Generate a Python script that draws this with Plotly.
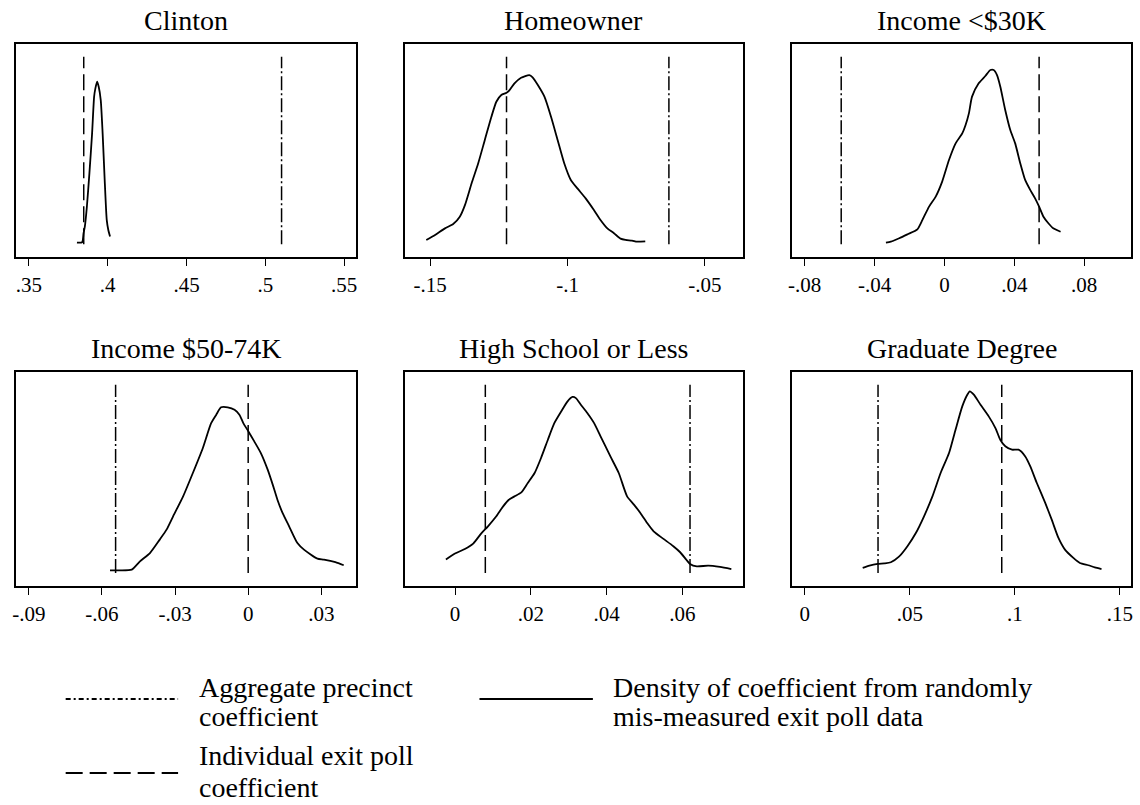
import plotly.graph_objects as go

# ---------------- data ----------------
titles = ["Clinton", "Homeowner", "Income &lt;$30K",
          "Income $50-74K", "High School or Less", "Graduate Degree"]

aggregate_coef = [0.5103, -0.0631, -0.0591, -0.0544, 0.0620, 0.0349]
individual_coef = [0.3848, -0.1222, 0.0542, 0.0000, 0.0080, 0.0938]

tick_vals = [[0.35, 0.40, 0.45, 0.50, 0.55],
             [-0.15, -0.10, -0.05],
             [-0.08, -0.04, 0.0, 0.04, 0.08],
             [-0.09, -0.06, -0.03, 0.0, 0.03],
             [0.0, 0.02, 0.04, 0.06],
             [0.0, 0.05, 0.10, 0.15]]
tick_text = [[".35", ".4", ".45", ".5", ".55"],
             ["-.15", "-.1", "-.05"],
             ["-.08", "-.04", "0", ".04", ".08"],
             ["-.09", "-.06", "-.03", "0", ".03"],
             ["0", ".02", ".04", ".06"],
             ["0", ".05", ".1", ".15"]]

clinton_x = [.3805, .3838, .3847, .3855, .3868, .3884, .3901, .3914, .3922, .3933,
             .3943, .3956, .3968, .3981, .3994, .4004, .4015]
clinton_y = [.009, .011, .059, .094, .200, .378, .590, .787, .831, .867,
             .840, .769, .590, .343, .130, .076, .041]

homeowner_x = [-.1514, -.1482, -.1446, -.1416, -.1392, -.1373, -.1349, -.1325, -.1301, -.1277,
               -.1259, -.1241, -.1222, -.1211, -.1193, -.1169, -.1139, -.1127, -.1108, -.1084,
               -.1060, -.1036, -.1012, -.0988, -.0964, -.0934, -.0904, -.0880, -.0855, -.0831,
               -.0807, -.0789, -.0765, -.0747, -.0717]
homeowner_y = [.023, .050, .085, .108, .147, .210, .325, .432, .556, .680,
               .760, .796, .808, .822, .858, .888, .902, .890, .849, .787,
               .680, .556, .432, .343, .298, .245, .183, .130, .085, .059,
               .030, .023, .020, .014, .016]

inc30_x = [-.0335, -.0307, -.0259, -.0212, -.0155, -.0126, -.0088, -.0050, -.0013, .0026,
           .0064, .0102, .0121, .0140, .0158, .0196, .0234, .0263, .0282, .0301,
           .0320, .0348, .0377, .0405, .0434, .0462, .0491, .0519, .0542, .0567,
           .0595, .0623, .0665]
inc30_y = [.009, .014, .032, .053, .080, .130, .201, .254, .334, .449,
           .538, .591, .636, .698, .787, .858, .897, .929, .929, .902,
           .840, .716, .609, .538, .432, .343, .290, .245, .201, .147,
           .112, .085, .067]

inc5074_x = [-.0567, -.0526, -.0478, -.0444, -.0403, -.0363, -.0335, -.0308, -.0267, -.0227,
             -.0186, -.0152, -.0131, -.0111, -.0084, -.0056, -.0036, -.0020, .0001, .0025,
             .0052, .0080, .0103, .0120, .0141, .0168, .0202, .0229, .0284, .0311,
             .0358, .0392]
inc5074_y = [.014, .014, .018, .062, .106, .177, .230, .301, .407, .531,
             .664, .796, .841, .880, .880, .867, .841, .796, .752, .699,
             .637, .549, .460, .389, .319, .248, .159, .124, .076, .071,
             .057, .041]

hs_x = [-.0024, .0000, .0026, .0048, .0070, .0087, .0109, .0127, .0142, .0157,
        .0175, .0192, .0210, .0227, .0245, .0262, .0280, .0297, .0310, .0319,
        .0332, .0349, .0367, .0384, .0410, .0432, .0454, .0472, .0489, .0507,
        .0524, .0550, .0576, .0594, .0610, .0620, .0638, .0668, .0699, .0729]
hs_y = [.071, .103, .127, .156, .212, .248, .301, .354, .389, .407,
        .428, .478, .531, .611, .708, .796, .858, .912, .935, .929,
        .894, .850, .796, .726, .619, .531, .407, .363, .319, .265,
        .221, .181, .142, .110, .071, .048, .035, .039, .032, .021]

grad_x = [.0276, .0308, .0347, .0379, .0410, .0450, .0489, .0529, .0568, .0608,
          .0647, .0687, .0718, .0750, .0774, .0786, .0805, .0837, .0876, .0908,
          .0931, .0955, .0987, .1018, .1050, .1074, .1105, .1145, .1176, .1208,
          .1239, .1279, .1310, .1350, .1381, .1413]
grad_y = [.027, .039, .048, .051, .057, .088, .142, .212, .301, .407,
          .531, .637, .761, .885, .947, .965, .947, .894, .832, .770,
          .708, .673, .655, .655, .619, .566, .478, .372, .283, .186,
          .124, .080, .053, .041, .030, .021]

density_x = [clinton_x, homeowner_x, inc30_x, inc5074_x, hs_x, grad_x]
density_y = [clinton_y, homeowner_y, inc30_y, inc5074_y, hs_y, grad_y]

legend_labels = [["Aggregate precinct", "coefficient"],
                 ["Individual exit poll", "coefficient"],
                 ["Density of coefficient from randomly", "mis-measured exit poll data"]]

# ---------------- layout helpers ----------------
W, H = 1140, 805
FONT = "Liberation Serif"

def px(x):
    return x / W

def py(y):
    return 1 - y / H

col_dom = [(12, 354), (402.7, 743), (792.3, 1133.3)]
row_dom = [(44, 257), (372, 585.7)]
x_ranges = [[.3418, .5576], [-.1593, -.0361], [-.0872, .1070],
            [-.0953, .0443], [-.0133, .0760], [-.0060, .1555]]
y_range = [-0.0677, 1.0677]

DASH = "16px,6px"
DASHDOT = "14px,3px,2px,3px"

fig = go.Figure()
layout = dict(width=W, height=H, margin=dict(l=0, r=0, t=0, b=0),
              paper_bgcolor="white", plot_bgcolor="white", showlegend=False,
              font=dict(family=FONT, color="black"))
annotations = []
shapes = []

for i in range(6):
    r, c = divmod(i, 3)
    n = "" if i == 0 else str(i + 1)
    xa, ya = "x" + n, "y" + n
    layout["xaxis" + n] = dict(
        domain=[px(col_dom[c][0]), px(col_dom[c][1])], anchor=ya,
        range=x_ranges[i], tickvals=tick_vals[i], ticktext=tick_text[i],
        ticks="outside", ticklen=7, tickwidth=1.3, tickcolor="black",
        ticklabelstandoff=1,
        showline=True, linecolor="black", linewidth=1.6, mirror=True,
        showgrid=False, zeroline=False,
        tickfont=dict(family=FONT, size=21, color="black"))
    layout["yaxis" + n] = dict(
        domain=[py(row_dom[r][1]), py(row_dom[r][0])], anchor=xa,
        range=y_range, showticklabels=False, ticks="",
        showline=True, linecolor="black", linewidth=1.6, mirror=True,
        showgrid=False, zeroline=False)

    # aggregate precinct coefficient (dash-dot)
    fig.add_trace(go.Scatter(x=[aggregate_coef[i]] * 2, y=[0, 1], mode="lines",
                             line=dict(color="black", width=1.5, dash=DASHDOT),
                             xaxis=xa, yaxis=ya, hoverinfo="skip"))
    # individual exit poll coefficient (dashed)
    fig.add_trace(go.Scatter(x=[individual_coef[i]] * 2, y=[0, 1], mode="lines",
                             line=dict(color="black", width=1.5, dash=DASH),
                             xaxis=xa, yaxis=ya, hoverinfo="skip"))
    # density curve
    fig.add_trace(go.Scatter(x=density_x[i], y=density_y[i], mode="lines",
                             line=dict(color="black", width=1.8, shape="spline", smoothing=0.6),
                             xaxis=xa, yaxis=ya))

    title_y = 20 if r == 0 else 348
    annotations.append(dict(text=titles[i], x=px((col_dom[c][0] + col_dom[c][1]) / 2),
                            y=py(title_y), xref="paper", yref="paper",
                            xanchor="center", yanchor="middle", showarrow=False,
                            font=dict(family=FONT, size=28, color="black")))

# ---------------- legend (manual) ----------------
leg_samples = [((62, 175, 699), "5px,3px,2px,3px"),
               ((62, 175, 773), "17px,7px"),
               ((478, 592, 699), "solid")]
for (x0, x1, yy), d in leg_samples:
    shapes.append(dict(type="line", xref="paper", yref="paper",
                       x0=px(x0), x1=px(x1), y0=py(yy), y1=py(yy),
                       line=dict(color="black", width=2.2 if d == "solid" else 1.8, dash=d)))

leg_text_pos = [(194, [687, 716]), (194, [755, 787]), (610, [687, 716])]
for (tx, tys), lines in zip(leg_text_pos, legend_labels):
    for ty, line in zip(tys, lines):
        annotations.append(dict(text=line, x=px(tx), y=py(ty), xref="paper", yref="paper",
                                xanchor="left", yanchor="middle", showarrow=False,
                                font=dict(family=FONT, size=28, color="black")))

layout["annotations"] = annotations
layout["shapes"] = shapes
fig.update_layout(**layout)
fig.write_html("out.html")
